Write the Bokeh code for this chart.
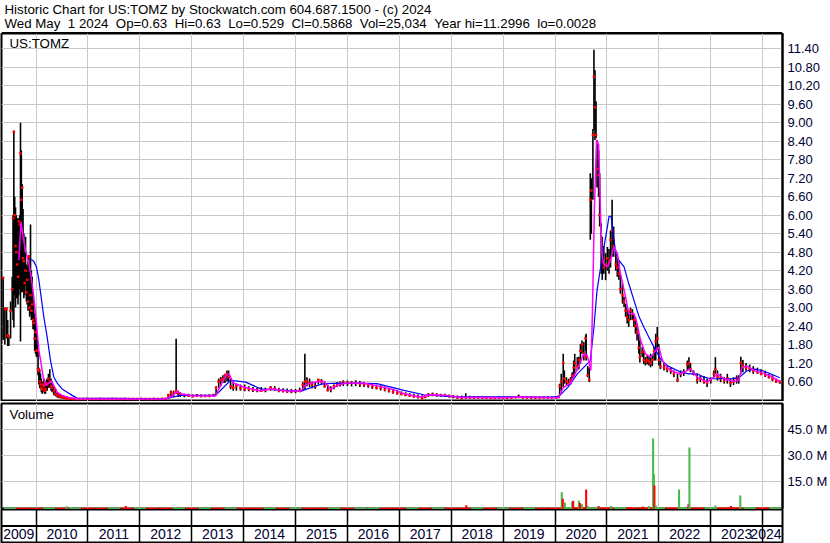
import numpy as np
from bokeh.plotting import figure
from bokeh.layouts import column
from bokeh.models import Range1d, FixedTicker, Span, Label, ColumnDataSource
from bokeh.embed import file_html
from bokeh.resources import INLINE

FONT = "Liberation Sans"
NB = "\u00a0"

header_1 = "Historic Chart for US:TOMZ by Stockwatch.com 604.687.1500 - (c) 2024"
header_2 = ("Wed May  1 2024  Op=0.63  Hi=0.63  Lo=0.529  Cl=0.5868  Vol=25,034  "
            "Year hi=11.2996  lo=0.0028")
symbol = "US:TOMZ"

# time axis (decimal years) and year cells
t_start, t_end = 2009.335, 2024.383
year_bounds = [2010, 2011, 2012, 2013, 2014, 2015, 2016, 2017, 2018, 2019, 2020, 2021, 2022, 2023, 2024]
year_labels = ["2009", "2010", "2011", "2012", "2013", "2014", "2015", "2016", "2017", "2018",
               "2019", "2020", "2021", "2022", "2023", "2024"]

price_ticks = [0.6, 1.2, 1.8, 2.4, 3.0, 3.6, 4.2, 4.8, 5.4, 6.0, 6.6, 7.2, 7.8, 8.4, 9.0, 9.6, 10.2, 10.8, 11.4]
vol_ticks = [15e6, 30e6, 45e6]
vol_tick_labels = ["15.0 M", "30.0 M", "45.0 M"]

# ---- price bars (time, high, low, close) ----
bar_t = [2009.367, 2009.400, 2009.432, 2009.455, 2009.477, 2009.510, 2009.541, 2009.557, 2009.573, 2009.589,
         2009.605, 2009.621, 2009.637, 2009.653, 2009.669, 2009.685, 2009.701, 2009.717, 2009.734, 2009.750,
         2009.766, 2009.782, 2009.798, 2009.814, 2009.830, 2009.846, 2009.862, 2009.878, 2009.894, 2009.910,
         2009.926, 2009.942, 2009.958, 2009.974, 2009.990, 2010.006, 2010.023, 2010.039, 2010.055, 2010.071,
         2010.087, 2010.103, 2010.119, 2010.135, 2010.151, 2010.167, 2010.183, 2010.199, 2010.215, 2010.240,
         2010.266, 2010.290, 2010.312, 2010.344, 2010.376, 2010.408, 2010.440, 2010.480, 2010.520, 2010.560,
         2010.601, 2010.650, 2010.700, 2010.750,
         2010.83, 2010.91, 2010.99, 2011.07, 2011.15, 2011.23, 2011.31, 2011.39, 2011.47, 2011.55,
         2011.63, 2011.71, 2011.79, 2011.87, 2011.95, 2012.03, 2012.11, 2012.19, 2012.27, 2012.35, 2012.43,
         2012.50, 2012.55, 2012.60, 2012.65, 2012.70, 2012.74, 2012.78, 2012.86, 2012.94, 2013.02,
         2013.10, 2013.18, 2013.26, 2013.34, 2013.42, 2013.47, 2013.52, 2013.56, 2013.60, 2013.64,
         2013.68, 2013.71, 2013.75, 2013.80, 2013.86, 2013.94, 2014.02, 2014.10, 2014.18, 2014.26,
         2014.34, 2014.42, 2014.52, 2014.60, 2014.68, 2014.76, 2014.84, 2014.92, 2015.00, 2015.08,
         2015.14, 2015.18, 2015.22, 2015.27, 2015.32, 2015.38, 2015.44, 2015.50, 2015.56, 2015.62,
         2015.68, 2015.74, 2015.80, 2015.86, 2015.92, 2016.00, 2016.08, 2016.16, 2016.24, 2016.32,
         2016.40, 2016.48, 2016.56, 2016.64, 2016.72, 2016.80, 2016.88, 2016.96, 2017.04, 2017.12,
         2017.20, 2017.28, 2017.36, 2017.44, 2017.50, 2017.56, 2017.64, 2017.72, 2017.80, 2017.88,
         2017.96, 2018.04, 2018.12, 2018.20, 2018.28, 2018.36, 2018.44, 2018.52, 2018.60, 2018.68,
         2018.76, 2018.84, 2018.92, 2019.00, 2019.08, 2019.16, 2019.24, 2019.30, 2019.38, 2019.46,
         2019.54, 2019.62, 2019.70, 2019.78, 2019.86, 2019.94, 2020.02,
         2020.07, 2020.09, 2020.12, 2020.158, 2020.18, 2020.22, 2020.26, 2020.30, 2020.33, 2020.36,
         2020.38, 2020.43, 2020.46, 2020.49, 2020.52, 2020.555, 2020.59, 2020.60, 2020.63, 2020.66,
         2020.68, 2020.70, 2020.73, 2020.75, 2020.77, 2020.79, 2020.81, 2020.84, 2020.86, 2020.89,
         2020.91, 2020.94, 2020.975, 2021.01, 2021.04, 2021.07, 2021.10, 2021.13, 2021.17, 2021.20,
         2021.23, 2021.26, 2021.30, 2021.33, 2021.36, 2021.39, 2021.42, 2021.455, 2021.49, 2021.52,
         2021.55, 2021.58, 2021.615, 2021.635, 2021.68, 2021.71, 2021.74, 2021.775, 2021.81, 2021.84,
         2021.875, 2021.91, 2021.94, 2021.97, 2022.00, 2022.03, 2022.10, 2022.16, 2022.23, 2022.29,
         2022.36, 2022.42, 2022.48, 2022.55, 2022.58, 2022.61, 2022.67, 2022.74, 2022.80, 2022.87,
         2022.93, 2023.00, 2023.06, 2023.09, 2023.13, 2023.19, 2023.26, 2023.32, 2023.38, 2023.44,
         2023.50, 2023.54, 2023.58, 2023.62, 2023.68, 2023.75, 2023.82, 2023.90, 2023.97, 2024.05,
         2024.12, 2024.19, 2024.26, 2024.33]
bar_hi = [4.00, 3.00, 3.00, 2.60, 2.10, 3.20, 4.00, 6.00, 8.75, 6.60,
          6.26, 6.00, 5.90, 5.60, 5.90, 6.00, 9.00, 8.10, 7.00, 6.20,
          5.40, 4.80, 5.30, 4.40, 4.30, 4.50, 4.70, 4.20, 5.70, 4.20,
          4.00, 3.40, 3.10, 2.80, 2.66, 2.40, 2.20, 1.60, 1.05, 1.00,
          0.85, 0.70, 0.50, 0.60, 0.70, 0.55, 0.50, 0.65, 0.70, 0.85,
          1.00, 0.70, 0.60, 0.45, 0.35, 0.25, 0.20, 0.18, 0.15, 0.12,
          0.10, 0.08, 0.07, 0.06,
          0.06, 0.05, 0.06, 0.05, 0.05, 0.06, 0.05, 0.05, 0.06, 0.05,
          0.05, 0.06, 0.05, 0.05, 0.05, 0.06, 0.05, 0.05, 0.06, 0.05, 0.06,
          0.06, 0.20, 0.31, 0.30, 1.99, 0.30, 0.25, 0.20, 0.20, 0.18,
          0.19, 0.18, 0.17, 0.18, 0.20, 0.45, 0.70, 0.75, 0.80, 0.85,
          0.96, 0.96, 0.70, 0.60, 0.53, 0.50, 0.50, 0.45, 0.42, 0.40,
          0.42, 0.40, 0.45, 0.45, 0.40, 0.38, 0.37, 0.36, 0.36, 0.40,
          0.58, 1.50, 0.74, 0.70, 0.60, 0.58, 0.69, 0.68, 0.60, 0.50,
          0.45, 0.50, 0.58, 0.60, 0.64, 0.63, 0.62, 0.64, 0.62, 0.58,
          0.56, 0.54, 0.50, 0.48, 0.44, 0.40, 0.36, 0.32, 0.28, 0.25,
          0.22, 0.20, 0.18, 0.15, 0.16, 0.22, 0.24, 0.22, 0.20, 0.20,
          0.18, 0.16, 0.15, 0.14, 0.22, 0.14, 0.12, 0.12, 0.11, 0.11,
          0.10, 0.10, 0.11, 0.10, 0.10, 0.11, 0.12, 0.18, 0.12, 0.11,
          0.11, 0.10, 0.10, 0.10, 0.10, 0.10, 0.10,
          0.15, 0.53, 0.85, 1.50, 0.96, 0.74, 0.69, 0.74, 0.90, 1.28,
          1.50, 1.39, 1.40, 1.82, 1.93, 1.88, 2.10, 2.15, 1.10, 1.06,
          7.36, 7.20, 8.80, 11.37, 10.70, 9.70, 8.44, 8.10, 7.36, 5.74,
          5.30, 5.00, 4.76, 4.97, 4.90, 5.50, 6.50, 5.63, 4.86, 4.65,
          4.50, 4.10, 3.78, 3.35, 3.13, 3.00, 2.90, 3.00, 2.95, 2.80,
          2.70, 2.48, 2.15, 1.93, 1.72, 1.61, 1.39, 1.45, 1.40, 1.50,
          1.45, 1.72, 2.15, 2.37, 1.82, 1.28, 1.22, 1.12, 1.06, 0.96,
          0.85, 0.96, 1.00, 1.28, 1.39, 1.20, 0.96, 0.85, 0.80, 0.78,
          0.69, 0.74, 0.96, 1.39, 0.96, 0.85, 0.74, 0.85, 0.69, 0.74,
          0.80, 0.80, 1.40, 1.30, 1.20, 1.15, 1.10, 1.05, 1.00, 0.95,
          0.85, 0.80, 0.70, 0.63]
bar_lo = [1.95, 1.80, 2.00, 1.75, 1.75, 2.00, 2.90, 2.60, 2.35, 3.40,
          3.00, 3.30, 3.30, 3.10, 3.40, 3.60, 1.90, 3.50, 3.50, 3.60,
          3.30, 3.40, 3.70, 3.20, 3.10, 2.90, 3.00, 2.70, 2.80, 2.60,
          2.60, 2.30, 2.30, 1.60, 1.50, 1.40, 1.40, 0.80, 0.50, 0.40,
          0.35, 0.25, 0.20, 0.25, 0.25, 0.20, 0.20, 0.30, 0.30, 0.40,
          0.40, 0.30, 0.25, 0.15, 0.12, 0.08, 0.06, 0.05, 0.04, 0.03,
          0.02, 0.02, 0.01, 0.01,
          0.01, 0.01, 0.02, 0.01, 0.01, 0.02, 0.01, 0.01, 0.02, 0.01,
          0.01, 0.02, 0.01, 0.01, 0.01, 0.02, 0.01, 0.01, 0.02, 0.01, 0.02,
          0.02, 0.03, 0.09, 0.10, 0.20, 0.10, 0.10, 0.09, 0.10, 0.09,
          0.10, 0.09, 0.10, 0.09, 0.10, 0.15, 0.40, 0.45, 0.55, 0.55,
          0.60, 0.60, 0.35, 0.30, 0.30, 0.30, 0.28, 0.28, 0.26, 0.25,
          0.26, 0.25, 0.30, 0.30, 0.25, 0.24, 0.23, 0.22, 0.22, 0.25,
          0.31, 0.36, 0.45, 0.42, 0.38, 0.36, 0.50, 0.52, 0.40, 0.28,
          0.25, 0.35, 0.42, 0.44, 0.45, 0.45, 0.44, 0.45, 0.42, 0.42,
          0.40, 0.36, 0.34, 0.31, 0.28, 0.24, 0.20, 0.18, 0.15, 0.12,
          0.10, 0.07, 0.05, 0.02, 0.06, 0.10, 0.12, 0.11, 0.11, 0.10,
          0.09, 0.06, 0.04, 0.02, 0.04, 0.03, 0.04, 0.05, 0.04, 0.04,
          0.03, 0.03, 0.04, 0.03, 0.04, 0.04, 0.05, 0.06, 0.05, 0.04,
          0.04, 0.04, 0.05, 0.05, 0.05, 0.05, 0.05,
          0.06, 0.15, 0.30, 0.42, 0.53, 0.47, 0.47, 0.50, 0.60, 0.74,
          0.85, 0.96, 1.00, 1.17, 1.50, 1.28, 1.60, 1.28, 0.74, 0.58,
          5.20, 5.40, 6.50, 8.76, 8.44, 8.50, 6.90, 6.60, 5.63, 4.10,
          3.90, 4.10, 3.89, 4.20, 4.10, 4.30, 4.65, 4.65, 4.20, 4.00,
          3.90, 3.45, 3.13, 3.02, 2.70, 2.48, 2.37, 2.59, 2.60, 2.37,
          2.15, 1.93, 1.50, 1.22, 1.39, 1.17, 1.12, 1.15, 1.12, 1.06,
          1.10, 1.28, 1.28, 1.61, 1.12, 1.00, 0.96, 0.90, 0.85, 0.74,
          0.58, 0.74, 0.78, 0.96, 1.00, 0.90, 0.80, 0.53, 0.58, 0.53,
          0.42, 0.53, 0.74, 0.85, 0.63, 0.58, 0.53, 0.53, 0.42, 0.48,
          0.53, 0.53, 0.85, 0.90, 0.95, 0.90, 0.85, 0.85, 0.80, 0.75,
          0.70, 0.62, 0.55, 0.529]
bar_cl = [3.96, 2.95, 2.95, 2.10, 2.05, 2.90, 3.60, 5.90, 8.70, 6.00,
          5.00, 4.80, 4.40, 4.00, 5.80, 5.70, 8.00, 6.50, 6.90, 4.60,
          4.50, 3.80, 4.20, 3.50, 3.90, 3.20, 4.65, 3.00, 3.40, 2.90,
          3.10, 2.60, 2.50, 2.00, 2.20, 1.60, 1.60, 1.00, 0.95, 0.60,
          0.50, 0.40, 0.35, 0.50, 0.45, 0.30, 0.35, 0.55, 0.50, 0.70,
          0.60, 0.45, 0.40, 0.30, 0.20, 0.15, 0.12, 0.10, 0.08, 0.06,
          0.05, 0.04, 0.03, 0.03,
          0.03, 0.03, 0.04, 0.03, 0.03, 0.04, 0.03, 0.03, 0.04, 0.03,
          0.03, 0.04, 0.03, 0.03, 0.03, 0.04, 0.03, 0.03, 0.04, 0.03, 0.04,
          0.04, 0.15, 0.25, 0.20, 0.30, 0.22, 0.18, 0.15, 0.14, 0.12,
          0.15, 0.13, 0.13, 0.14, 0.15, 0.40, 0.60, 0.65, 0.70, 0.80,
          0.85, 0.75, 0.45, 0.40, 0.45, 0.38, 0.35, 0.36, 0.33, 0.32,
          0.30, 0.32, 0.40, 0.36, 0.30, 0.30, 0.28, 0.28, 0.29, 0.30,
          0.50, 0.60, 0.60, 0.55, 0.50, 0.45, 0.65, 0.60, 0.45, 0.32,
          0.35, 0.45, 0.52, 0.55, 0.58, 0.55, 0.56, 0.55, 0.52, 0.50,
          0.48, 0.44, 0.40, 0.38, 0.34, 0.30, 0.26, 0.22, 0.20, 0.17,
          0.14, 0.12, 0.10, 0.06, 0.10, 0.17, 0.18, 0.16, 0.15, 0.14,
          0.12, 0.10, 0.08, 0.06, 0.08, 0.07, 0.08, 0.08, 0.07, 0.07,
          0.06, 0.06, 0.07, 0.06, 0.07, 0.07, 0.09, 0.10, 0.08, 0.08,
          0.07, 0.07, 0.07, 0.08, 0.08, 0.08, 0.08,
          0.10, 0.45, 0.60, 1.20, 0.70, 0.60, 0.55, 0.65, 0.80, 1.05,
          1.20, 1.10, 1.30, 1.60, 1.80, 1.50, 2.00, 1.40, 0.80, 0.65,
          6.50, 6.80, 8.60, 10.50, 9.50, 8.60, 7.50, 7.30, 6.00, 4.50,
          4.80, 4.30, 4.40, 4.60, 4.50, 5.20, 5.50, 5.00, 4.40, 4.30,
          4.10, 3.60, 3.40, 3.20, 2.90, 2.70, 2.60, 2.90, 2.80, 2.60,
          2.40, 2.20, 1.70, 1.40, 1.55, 1.30, 1.25, 1.30, 1.25, 1.20,
          1.30, 1.60, 1.90, 2.00, 1.30, 1.10, 1.05, 1.00, 0.95, 0.85,
          0.65, 0.85, 0.90, 1.15, 1.20, 1.00, 0.85, 0.65, 0.70, 0.60,
          0.55, 0.65, 0.85, 1.00, 0.75, 0.70, 0.62, 0.70, 0.55, 0.60,
          0.70, 0.70, 1.20, 1.10, 1.05, 1.00, 0.95, 0.90, 0.85, 0.80,
          0.75, 0.68, 0.60, 0.5868]

# ---- moving averages ----
ma_short_t = [2009.669, 2009.711, 2009.750, 2009.798, 2009.862, 2009.907, 2009.958, 2010.009, 2010.055, 2010.099,
              2010.138, 2010.183, 2010.247, 2010.292, 2010.344, 2010.408, 2010.504, 2010.633, 2010.793,
              2011.50, 2012.50, 2012.62, 2012.72, 2012.80, 2013.00, 2013.46, 2013.55, 2013.66, 2013.72,
              2013.80, 2014.00, 2014.30, 2014.55, 2014.80, 2015.10, 2015.20, 2015.30, 2015.45, 2015.55,
              2015.68, 2015.85, 2016.00, 2016.30, 2016.60, 2016.90, 2017.10, 2017.40, 2017.60, 2017.90,
              2018.20, 2018.60, 2019.00, 2019.30, 2019.90, 2020.07, 2020.158, 2020.30, 2020.43, 2020.555,
              2020.62, 2020.69, 2020.72, 2020.76, 2020.80, 2020.84, 2020.86, 2020.88, 2020.91, 2020.94,
              2021.01, 2021.07, 2021.13, 2021.20, 2021.26, 2021.36, 2021.42, 2021.52, 2021.58, 2021.65,
              2021.74, 2021.84, 2021.94, 2022.00, 2022.07, 2022.16, 2022.29, 2022.42, 2022.55, 2022.61,
              2022.74, 2022.93, 2023.06, 2023.13, 2023.26, 2023.45, 2023.54, 2023.60, 2023.70, 2023.85,
              2024.00, 2024.15, 2024.33]
ma_short_v = [4.54, 5.78, 5.30, 4.86, 4.43, 4.00, 3.34, 2.48, 1.61, 1.18,
              0.74, 0.47, 0.55, 0.61, 0.47, 0.25, 0.15, 0.08, 0.04,
              0.03, 0.04, 0.12, 0.28, 0.20, 0.14, 0.13, 0.45, 0.80, 0.85,
              0.55, 0.42, 0.30, 0.36, 0.30, 0.28, 0.50, 0.55, 0.60, 0.60,
              0.35, 0.50, 0.55, 0.55, 0.45, 0.33, 0.20, 0.10, 0.17, 0.15,
              0.08, 0.08, 0.07, 0.10, 0.07, 0.08, 0.40, 0.55, 1.00, 1.50,
              1.45, 0.96, 2.80, 6.28, 8.44, 8.30, 7.10, 5.85, 4.65, 4.40,
              4.32, 4.54, 4.97, 4.76, 4.10, 3.35, 2.80, 2.80, 2.48, 1.93,
              1.50, 1.39, 1.61, 1.72, 1.28, 1.06, 0.91, 0.85, 0.96, 1.01,
              0.74, 0.58, 0.74, 0.85, 0.69, 0.60, 0.63, 1.05, 1.10, 0.95,
              0.88, 0.78, 0.60]
ma_long_t = [2009.907, 2009.958, 2010.009, 2010.055, 2010.099, 2010.151, 2010.215, 2010.279, 2010.344, 2010.408,
             2010.504, 2010.601, 2010.697, 2010.793, 2011.50, 2012.50, 2012.78, 2013.46, 2013.75, 2014.04,
             2014.33, 2015.10, 2015.23, 2015.42, 2015.55, 2015.87, 2016.57, 2017.09, 2017.47, 2017.99,
             2019.91, 2020.07, 2020.25, 2020.43, 2020.62, 2020.68, 2020.75, 2020.81, 2020.91, 2021.01,
             2021.04, 2021.08, 2021.12, 2021.17, 2021.23, 2021.33, 2021.42, 2021.52, 2021.62, 2021.71,
             2021.84, 2021.94, 2022.03, 2022.16, 2022.29, 2022.42, 2022.58, 2022.74, 2022.87, 2023.00,
             2023.19, 2023.38, 2023.54, 2023.70, 2023.85, 2024.00, 2024.15, 2024.33]
ma_long_v = [4.56, 4.50, 4.32, 3.89, 3.34, 2.69, 2.04, 1.28, 0.74, 0.55,
             0.36, 0.25, 0.15, 0.06, 0.05, 0.04, 0.15, 0.15, 0.64, 0.58,
             0.36, 0.28, 0.36, 0.47, 0.53, 0.55, 0.53, 0.31, 0.17, 0.11,
             0.09, 0.11, 0.42, 0.85, 1.17, 1.28, 2.37, 3.56, 4.65, 5.63,
             5.96, 5.96, 5.42, 4.76, 4.54, 4.32, 3.78, 3.24, 2.70, 2.37,
             1.93, 1.61, 1.34, 1.12, 1.01, 0.91, 0.85, 0.85, 0.74, 0.69,
             0.69, 0.69, 0.72, 0.95, 1.00, 0.95, 0.85, 0.72]

# ---- volume (notable sessions) ----
vol_t = [2010.59, 2011.73, 2018.29, 2020.13, 2020.15, 2020.19, 2020.33, 2020.35, 2020.46, 2020.48,
         2020.52, 2020.60, 2020.63, 2020.84, 2021.08, 2021.45, 2021.69, 2021.81, 2021.89, 2021.905,
         2021.915, 2021.94, 2022.39, 2022.57, 2022.59, 2023.09, 2023.39, 2023.57]
vol_v = [0.9e6, 1.0e6, 1.5e6, 9.0e6, 5.2e6, 3.0e6, 3.5e6, 4.0e6, 4.0e6, 2.7e6,
         2.0e6, 10.6e6, 1.0e6, 1.0e6, 1.0e6, 0.5e6, 0.8e6, 1.0e6, 40.0e6, 19.4e6,
         12.9e6, 1.5e6, 10.6e6, 2.0e6, 34.8e6, 1.3e6, 1.0e6, 7.1e6]
vol_up = [True, False, False, True, False, True, True, False, True, False,
          True, False, True, False, True, False, False, True, True, True,
          False, True, True, False, True, True, False, True]
# background trickle of small volumes along the base line
base_t = [2009.50, 2009.75, 2010.00, 2010.25, 2010.50, 2010.75, 2011.00, 2011.25, 2011.50, 2011.75,
          2012.00, 2012.25, 2012.50, 2012.75, 2013.00, 2013.25, 2013.50, 2013.75, 2014.00, 2014.25,
          2014.50, 2014.75, 2015.00, 2015.25, 2015.50, 2015.75, 2016.00, 2016.25, 2016.50, 2016.75,
          2017.00, 2017.25, 2017.50, 2017.75, 2018.00, 2018.25, 2018.50, 2018.75, 2019.00, 2019.25,
          2019.50, 2019.75, 2020.00, 2020.25, 2020.50, 2020.75, 2021.00, 2021.25, 2021.50, 2021.75,
          2022.00, 2022.25, 2022.50, 2022.75, 2023.00, 2023.25, 2023.50, 2023.75, 2024.00, 2024.25]
base_v = [0.10e6, 0.05e6, 0.10e6, 0.05e6, 0.10e6, 0.05e6, 0.05e6, 0.10e6, 0.05e6, 0.10e6,
          0.05e6, 0.10e6, 0.05e6, 0.10e6, 0.05e6, 0.10e6, 0.05e6, 0.10e6, 0.05e6, 0.05e6,
          0.10e6, 0.05e6, 0.10e6, 0.05e6, 0.10e6, 0.05e6, 0.10e6, 0.05e6, 0.05e6, 0.10e6,
          0.05e6, 0.10e6, 0.05e6, 0.10e6, 0.05e6, 0.10e6, 0.05e6, 0.10e6, 0.05e6, 0.10e6,
          0.05e6, 0.10e6, 0.10e6, 0.30e6, 0.30e6, 0.20e6, 0.20e6, 0.20e6, 0.20e6, 0.20e6,
          0.20e6, 0.20e6, 0.20e6, 0.20e6, 0.20e6, 0.20e6, 0.20e6, 0.20e6, 0.20e6, 0.20e6]
base_up = "UDDUDUDDUDUDDUDUDUDDUDUDDUDUUDDUDUDDUDUDUDDUDUDUDDUDUDUDDUDU"

UP_GREEN = "#48b848"
DOWN_RED = "#ff0000"
GRID = "#c8c8c8"
TXT = "#000033"

W = 830
RIGHT = 48
LEFT = 1

x_range = Range1d(t_start, t_end)
price_range = Range1d(-0.049, 11.897)
vol_range = Range1d(-0.98e6, 60.2e6)

# ---------- header ----------
hdr = figure(width=W, height=33, x_range=Range1d(0, 1), y_range=Range1d(-0.02, 1),
             x_axis_location=None, y_axis_location=None, output_backend="svg",
             toolbar_location=None, min_border=0, outline_line_color=None)
hdr.grid.visible = False
for i, txt in enumerate([header_1, header_2]):
    hdr.add_layout(Label(x=0, y=1, x_offset=3, y_offset=-1 - 14 * i, text=txt.replace("  ", " " + NB),
                         text_baseline="top", text_font=FONT, text_font_size="13.3px",
                         text_color="black"))
hdr.add_layout(Span(location=0, dimension="width", line_color="black", line_width=1.5))

# ---------- price ----------
price = figure(width=W, height=368, x_range=x_range, y_range=price_range,
               x_axis_location=None, y_axis_location="right", output_backend="svg",
               toolbar_location=None, min_border_left=LEFT, min_border_right=RIGHT,
               min_border_top=0, min_border_bottom=0,
               outline_line_color="black", outline_line_width=2)
price.xgrid.ticker = FixedTicker(ticks=year_bounds)
price.ygrid.ticker = FixedTicker(ticks=price_ticks)
price.grid.grid_line_color = GRID
price.grid.grid_line_width = 1
ya = price.yaxis[0]
ya.ticker = FixedTicker(ticks=price_ticks)
ya.major_label_overrides = {t: f"{t:.2f}" for t in price_ticks}
ya.axis_line_color = "black"
ya.axis_line_width = 2
ya.major_tick_line_color = None
ya.minor_tick_line_color = None
ya.major_tick_out = 0
ya.major_label_standoff = 5
ya.major_label_text_font = FONT
ya.major_label_text_font_size = "13px"
ya.major_label_text_color = TXT

bars = ColumnDataSource(dict(t=bar_t, hi=bar_hi, lo=bar_lo, cl=bar_cl))
price.segment(x0="t", y0="lo", x1="t", y1="hi", source=bars, line_color="black", line_width=1.6)
price.scatter(x="t", y="cl", source=bars, marker="square", size=2.5, line_color=None,
              fill_color="red")
price.line(ma_long_t, ma_long_v, line_color="#0000ff", line_width=1.2)
price.line(ma_short_t, ma_short_v, line_color="#ff00ff", line_width=1.5)
price.add_layout(Label(x=t_start, y=price_range.end, x_offset=8, y_offset=-2, text=symbol,
                       text_baseline="top", text_font=FONT, text_font_size="13.3px",
                       text_color="black"))

# ---------- volume ----------
vol = figure(width=W, height=108, x_range=x_range, y_range=vol_range,
             x_axis_location=None, y_axis_location="right", output_backend="svg",
             toolbar_location=None, min_border_left=LEFT, min_border_right=RIGHT,
             min_border_top=2, min_border_bottom=0,
             outline_line_color="black", outline_line_width=2)
vol.xgrid.ticker = FixedTicker(ticks=year_bounds)
vol.ygrid.ticker = FixedTicker(ticks=vol_ticks)
vol.grid.grid_line_color = GRID
vy = vol.yaxis[0]
vy.ticker = FixedTicker(ticks=vol_ticks)
vy.major_label_overrides = dict(zip(vol_ticks, vol_tick_labels))
vy.axis_line_color = "black"
vy.axis_line_width = 2
vy.major_tick_line_color = None
vy.minor_tick_line_color = None
vy.major_tick_out = 0
vy.major_label_standoff = 5
vy.major_label_text_font = FONT
vy.major_label_text_font_size = "13px"
vy.major_label_text_color = TXT

floor = vol_range.start
base_src = ColumnDataSource(dict(t=base_t, v=base_v,
                                 c=[UP_GREEN if u == "U" else DOWN_RED for u in base_up]))
vol.vbar(x="t", top="v", bottom=floor, width=0.24, source=base_src, fill_color="c", line_color=None)
vol_src = ColumnDataSource(dict(t=vol_t, v=vol_v, c=[UP_GREEN if u else DOWN_RED for u in vol_up]))
vol.vbar(x="t", top="v", bottom=floor, width=0.04, source=vol_src, fill_color="c", line_color=None)
vol.add_layout(Label(x=t_start, y=vol_range.end, x_offset=8, y_offset=-3, text="Volume",
                     text_baseline="top", text_font=FONT, text_font_size="13.3px",
                     text_color="black"))

# ---------- date strip ----------
strip = figure(width=W, height=34, x_range=x_range, y_range=Range1d(0, 2),
               x_axis_location=None, y_axis_location=None, output_backend="svg",
               toolbar_location=None, min_border_left=LEFT, min_border_right=RIGHT,
               min_border_top=0, min_border_bottom=1,
               outline_line_color="black", outline_line_width=2)
strip.ygrid.visible = False
strip.xgrid.ticker = FixedTicker(ticks=year_bounds)
strip.xgrid.grid_line_color = "black"
strip.xgrid.grid_line_width = 1.5
strip.add_layout(Span(location=1, dimension="width", line_color="black", line_width=2))
cell_edges = [t_start] + year_bounds + [t_end]
label_x = [(a + b) / 2 for a, b in zip(cell_edges[:-1], cell_edges[1:])]
label_x[-1] = t_end          # last (partial) year: flush against the right edge
aligns = ["center"] * (len(label_x) - 1) + ["right"]
for lx, lt, al in zip(label_x, year_labels, aligns):
    strip.add_layout(Label(x=lx, y=0.5, x_offset=(-1 if al == "right" else 0), text=lt,
                           text_align=al, text_baseline="middle",
                           text_font=FONT, text_font_size="14px", text_color=TXT))

p = column(hdr, price, vol, strip, spacing=0)
open("out.html", "w").write(file_html(p, INLINE))
